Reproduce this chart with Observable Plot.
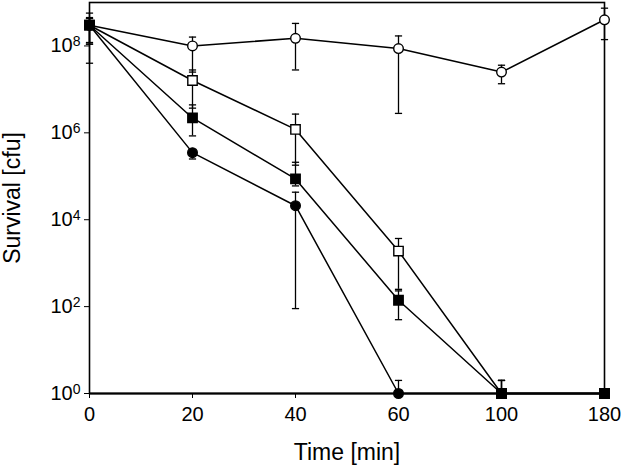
<!DOCTYPE html>
<html>
<head>
<meta charset="utf-8">
<script src="https://cdn.jsdelivr.net/npm/d3@7"></script>
<script src="https://cdn.jsdelivr.net/npm/@observablehq/plot@0.6"></script>
<style>
  html, body { margin: 0; padding: 0; background: #fff; }
</style>
</head>
<body>
<div id="chart"></div>
<script>
// Time points (min)
const times = ["0", "20", "40", "60", "100", "180"];
const yTicks = [1, 1e2, 1e4, 1e6, 1e8];

// Open circles
const openCircleMean = [3e8, 1.0e8, 1.5e8, 8.7e7, 2.5e7, 4.0e8];
const openCircleLow  = [1.2e8, 2.5e7, 2.8e7, 2.8e6, 1.35e7, 1.4e8];
const openCircleHigh = [5.7e8, 1.6e8, 3.3e8, 1.7e8, 3.6e7, 7.4e8];

// Open squares
const openSquareMean = [3e8, 1.6e7, 1.2e6, 1.9e3, 1, 1];
const openSquareLow  = [1.1e8, 3.7e6, 1.8e5, 2.5e2, 1, 1];
const openSquareHigh = [4.3e8, 2.8e7, 2.7e6, 3.7e3, 2, 1.2];

// Filled squares
const filledSquareMean = [3e8, 2.2e6, 8.7e4, 1.4e2, 1, 1];
const filledSquareLow  = [4e7, 8.5e5, 6e4, 50, 1, 1];
const filledSquareHigh = [4.3e8, 4.4e6, 2.1e5, 2.3e2, 2, 1.2];

// Filled circles
const filledCircleMean = [3e8, 3.5e5, 2.1e4, 1, 1, 1];
const filledCircleLow  = [1.1e8, 2.5e5, 90, 1, 1, 1];
const filledCircleHigh = [4.5e8, 4e5, 4.3e4, 2, 2, 1.2];

const seriesDefs = [
  {name: "openCircle", mean: openCircleMean, low: openCircleLow, high: openCircleHigh, symbol: "circle", fill: "white"},
  {name: "filledCircle", mean: filledCircleMean, low: filledCircleLow, high: filledCircleHigh, symbol: "circle", fill: "black"},
  {name: "openSquare", mean: openSquareMean, low: openSquareLow, high: openSquareHigh, symbol: "square", fill: "white"},
  {name: "filledSquare", mean: filledSquareMean, low: filledSquareLow, high: filledSquareHigh, symbol: "square", fill: "black"}
];

const rows = seriesDefs.flatMap(s => times.map((t, i) => ({
  t, v: s.mean[i], lo: s.low[i], hi: s.high[i], series: s.name
})));

// horizontal-line symbol for error-bar caps
const capSymbol = {
  draw(context, size) {
    const w = Math.sqrt(size / Math.PI);
    context.moveTo(-w, 0);
    context.lineTo(w, 0);
  }
};

const dotMarks = seriesDefs.map(s => Plot.dot(rows.filter(d => d.series === s.name), {
  x: "t", y: "v", symbol: s.symbol, r: s.symbol === "square" ? 5.3 : 4.8,
  fill: s.fill, stroke: "black", strokeWidth: 1.4
}));

const chart = Plot.plot({
  width: 622,
  height: 467,
  marginLeft: 89,
  marginRight: 18,
  marginTop: 2,
  marginBottom: 74,
  style: {fontFamily: "'Liberation Sans', Arial, sans-serif", fontSize: "20px", color: "black", background: "white"},
  x: {type: "point", domain: times, padding: 0},
  y: {type: "log", domain: [1, 1e9]},
  marks: [
    Plot.frame({stroke: "black", strokeWidth: 1.6}),
    Plot.ruleY([1], {stroke: "black", strokeWidth: 2.2}),
    Plot.axisX({tickSize: 5, tickPadding: 8, label: "Time [min]", labelAnchor: "center", labelArrow: "none", labelOffset: 66, fontSize: 20}),
    Plot.axisY({ticks: yTicks, tickSize: 5, tickPadding: 4, tickFormat: d => "10^" + Math.round(Math.log10(d)), label: "Survival [cfu]", labelAnchor: "center", labelArrow: "none", fontSize: 20}),
    Plot.line(rows, {x: "t", y: "v", z: "series", stroke: "black", strokeWidth: 1.5}),
    Plot.ruleX(rows, {x: "t", y1: "lo", y2: "hi", stroke: "black", strokeWidth: 1.3}),
    Plot.dot(rows.filter(d => d.hi > d.v), {x: "t", y: "hi", symbol: capSymbol, r: 3.6, fill: "none", stroke: "black", strokeWidth: 1.3}),
    Plot.dot(rows.filter(d => d.lo < d.v), {x: "t", y: "lo", symbol: capSymbol, r: 3.6, fill: "none", stroke: "black", strokeWidth: 1.3}),
    ...dotMarks
  ]
});

document.getElementById("chart").appendChild(chart);

// Render exponents as superscripts
d3.select(chart).selectAll('g[aria-label="y-axis tick label"] text').each(function() {
  const txt = this.textContent;
  const m = txt.match(/^10\^(-?\d+)$/);
  if (!m) return;
  const el = d3.select(this);
  el.text("10");
  el.append("tspan").attr("dy", "-0.42em").attr("font-size", "0.7em").text(m[1]);
});
// axis label sizes
d3.select(chart).selectAll('g[aria-label="x-axis label"] text, g[aria-label="y-axis label"] text').attr("font-size", 23);
</script>
</body>
</html>
